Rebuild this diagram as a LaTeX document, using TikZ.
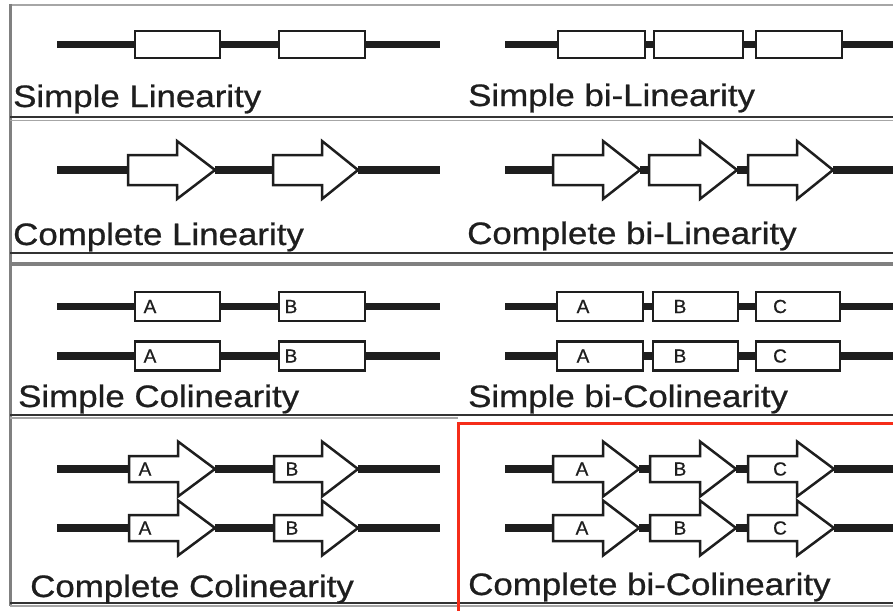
\documentclass[tikz,border=0pt]{standalone}
\usepackage{fontspec}
\setmainfont{Liberation Sans}
\newfontfamily\heavysans{Liberation Sans}[FakeBold=0.7]
\definecolor{redbox}{RGB}{245,45,25}
\definecolor{ink}{RGB}{30,30,30}
\tikzset{
  gene/.style={draw=ink, fill=white, line width=2.5pt, rectangle, inner sep=0pt},
  chrom/.style={line width=7.5pt, ink},
  arrowgene/.style={draw=ink, fill=white, line width=2.5pt, line join=miter},
  letter/.style={font=\heavysans\fontsize{19}{19}\selectfont, inner sep=0pt, text=ink},
  title/.style={font=\heavysans\fontsize{31}{36}\selectfont, inner sep=0pt, anchor=base west, text=ink},
  darkrule/.style={draw=black!80, line width=1.8pt},
  grayrule/.style={draw=black!50, line width=3pt},
  lightrule/.style={draw=black!35, line width=1.2pt},
}
% #1 name, #2 x1, #3 x2, #4 y, #5 half height
\newcommand{\gBox}[5]{%
  \node[gene, minimum width={#3-#2}, minimum height={2*#5}] (#1) at ({(#2+#3)/2},#4) {};
}
% #1 name, #2 tail x, #3 head base x, #4 tip x, #5 y, #6 body half, #7 head half
\newcommand{\gArr}[7]{%
  \draw[arrowgene] (#2,#5-#6) -- (#3,#5-#6) -- (#3,#5-#7) -- (#4,#5) -- (#3,#5+#7) -- (#3,#5+#6) -- (#2,#5+#6) -- cycle;
  \coordinate (#1-w) at (#2,#5);
  \coordinate (#1-e) at (#4,#5);
}
\newcommand{\wideT}[1]{\scalebox{1.125}[1]{#1}}
\begin{document}
\begin{tikzpicture}[x=1pt,y=-1pt]
\useasboundingbox[fill=white] (0,0) rectangle (893,610);

% ---------- frame ----------
\draw[lightrule] (10,5) -- (893,5);
\draw[grayrule] (10,4) -- (10,606);
\draw[darkrule] (10,117) -- (893,117);
\draw[lightrule] (10,120.5) -- (893,120.5);
\draw[darkrule, line width=1.5pt] (10,253) -- (893,253);
\draw[grayrule, line width=4pt] (10,264) -- (893,264);
\draw[darkrule] (10,415) -- (893,415);
\draw[lightrule] (10,418) -- (458,418);
\draw[darkrule, line width=1.5pt] (10,603) -- (893,603);
\draw[lightrule] (10,606) -- (893,606);

% ---------- Row 1: Simple Linearity ----------
\coordinate (s1) at (57,44.5);
\coordinate (e1) at (440,44.5);
\gBox{b11}{135}{220}{44.5}{13.5}
\gBox{b12}{279}{365}{44.5}{13.5}
\draw[chrom] (s1) -- (b11.west);
\draw[chrom] (b11.east) -- (b12.west);
\draw[chrom] (b12.east) -- (e1);

\coordinate (s2) at (505,44.5);
\coordinate (e2) at (895,44.5);
\gBox{b21}{558}{645}{44.5}{13.5}
\gBox{b22}{654}{743}{44.5}{13.5}
\gBox{b23}{756}{842}{44.5}{13.5}
\draw[chrom] (s2) -- (b21.west);
\draw[chrom] (b21.east) -- (b22.west);
\draw[chrom] (b22.east) -- (b23.west);
\draw[chrom] (b23.east) -- (e2);

\node[title] (t1) at (13,107) {\wideT{Simple Linearity}};
\node[title] (t2) at (468,106) {\wideT{Simple bi-Linearity}};

% ---------- Row 2: Complete Linearity ----------
\coordinate (s3) at (57,170);
\coordinate (e3) at (440,170);
\gArr{a31}{128}{177}{215}{170}{15}{29}
\gArr{a32}{273}{322}{358}{170}{15}{29}
\draw[chrom] (s3) -- (a31-w);
\draw[chrom] (a31-e) -- (a32-w);
\draw[chrom] (a32-e) -- (e3);

\coordinate (s4) at (505,170);
\coordinate (e4) at (895,170);
\gArr{a41}{553}{603}{640}{170}{15}{29}
\gArr{a42}{649}{700}{737}{170}{15}{29}
\gArr{a43}{748}{797}{833}{170}{15}{29}
\draw[chrom] (s4) -- (a41-w);
\draw[chrom] (a41-e) -- (a42-w);
\draw[chrom] (a42-e) -- (a43-w);
\draw[chrom] (a43-e) -- (e4);

\node[title] (t3) at (13,245) {\wideT{Complete Linearity}};
\node[title] (t4) at (467,244) {\wideT{Complete bi-Linearity}};

% ---------- Row 3: Simple Colinearity ----------
\foreach \yy/\nm in {306.5/u, 356/d}{
  \coordinate (s5\nm) at (57,\yy);
  \coordinate (e5\nm) at (440,\yy);
  \gBox{b51\nm}{135}{220}{\yy}{14.5}
  \gBox{b52\nm}{279}{365}{\yy}{14.5}
  \draw[chrom] (s5\nm) -- (b51\nm.west);
  \draw[chrom] (b51\nm.east) -- (b52\nm.west);
  \draw[chrom] (b52\nm.east) -- (e5\nm);
  \node[letter] (l51\nm) at (150,\yy) {A};
  \node[letter] (l52\nm) at (291,\yy) {B};

  \coordinate (s6\nm) at (505,\yy);
  \coordinate (e6\nm) at (895,\yy);
  \gBox{b61\nm}{557}{643}{\yy}{14.5}
  \gBox{b62\nm}{653}{738}{\yy}{14.5}
  \gBox{b63\nm}{756}{840}{\yy}{14.5}
  \draw[chrom] (s6\nm) -- (b61\nm.west);
  \draw[chrom] (b61\nm.east) -- (b62\nm.west);
  \draw[chrom] (b62\nm.east) -- (b63\nm.west);
  \draw[chrom] (b63\nm.east) -- (e6\nm);
  \node[letter] (l61\nm) at (583,\yy) {A};
  \node[letter] (l62\nm) at (680,\yy) {B};
  \node[letter] (l63\nm) at (780,\yy) {C};
}

\node[title] (t5) at (18,407) {\wideT{Simple Colinearity}};
\node[title] (t6) at (468,407) {\wideT{Simple bi-Colinearity}};

% ---------- Row 4: Complete Colinearity ----------
\foreach \yy/\nm in {469/u, 528/d}{
  \coordinate (s7\nm) at (57,\yy);
  \coordinate (e7\nm) at (440,\yy);
  \gArr{a71\nm}{129}{178}{215}{\yy}{13}{27.5}
  \gArr{a72\nm}{274}{322}{358}{\yy}{13}{27.5}
  \draw[chrom] (s7\nm) -- (a71\nm-w);
  \draw[chrom] (a71\nm-e) -- (a72\nm-w);
  \draw[chrom] (a72\nm-e) -- (e7\nm);
  \node[letter] (l71\nm) at (145,\yy) {A};
  \node[letter] (l72\nm) at (292,\yy) {B};

  \coordinate (s8\nm) at (505,\yy);
  \coordinate (e8\nm) at (895,\yy);
  \gArr{a81\nm}{553}{603}{639}{\yy}{13}{27.5}
  \gArr{a82\nm}{650}{700}{736}{\yy}{13}{27.5}
  \gArr{a83\nm}{748}{797}{834}{\yy}{13}{27.5}
  \draw[chrom] (s8\nm) -- (a81\nm-w);
  \draw[chrom] (a81\nm-e) -- (a82\nm-w);
  \draw[chrom] (a82\nm-e) -- (a83\nm-w);
  \draw[chrom] (a83\nm-e) -- (e8\nm);
  \node[letter] (l81\nm) at (582,\yy) {A};
  \node[letter] (l82\nm) at (680,\yy) {B};
  \node[letter] (l83\nm) at (780,\yy) {C};
}

\node[title] (t7) at (30,597) {\wideT{Complete Colinearity}};
\node[title] (t8) at (468,595) {\wideT{Complete bi-Colinearity}};

% ---------- highlight ----------
\draw[redbox, line width=3pt] (458,423) rectangle (905,625);
\end{tikzpicture}
\end{document}
